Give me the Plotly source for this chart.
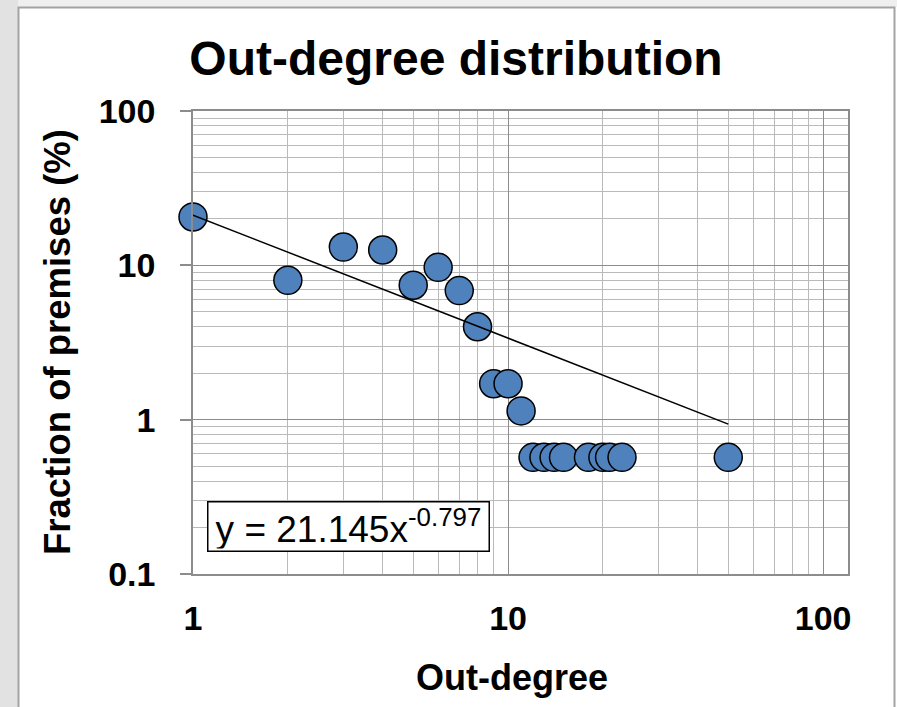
import plotly.graph_objects as go

# ---- data ----
out_degree = [1, 2, 3, 4, 5, 6, 7, 8, 9, 10, 11, 12, 13, 14, 15, 18, 20, 21, 23, 50]
fraction_pct = [20.57, 8.0, 13.14, 12.57, 7.43, 9.71, 6.86, 4.0, 1.71, 1.71, 1.14,
                0.57, 0.57, 0.57, 0.57, 0.57, 0.57, 0.57, 0.57, 0.57]

# power-law trendline  y = A * x^B  (as shown on the chart)
trend_A = 21.145
trend_B = -0.797
trend_x = [1, 50]
trend_y = [trend_A * x ** trend_B for x in trend_x]

x_ticks = [1, 10, 100]
x_tick_text = ["1", "10", "100"]
y_ticks = [0.1, 1, 10, 100]
y_tick_text = ["0.1", "1", "10", "100"]

# ---- figure geometry (pixels) ----
W, H = 897, 707
L, R, T, B = 193, 848, 111, 574
pw, ph = R - L, B - T


def px(xp):
    return (xp - L) / pw


def py(yp):
    return (B - yp) / ph


FONT = "Liberation Sans, Arial, sans-serif"
MAJOR = "#8c8c8c"
MINOR = "#bababa"

fig = go.Figure()
fig.add_trace(go.Scatter(
    x=out_degree, y=fraction_pct, mode="markers",
    marker=dict(size=28, color="#4F81BD", line=dict(color="black", width=1.5)),
    showlegend=False, cliponaxis=False,
))
fig.add_trace(go.Scatter(
    x=trend_x, y=trend_y, mode="lines",
    line=dict(color="black", width=1.5), showlegend=False,
))

shapes = [
    # left grey shadow strip
    dict(type="rect", xref="paper", yref="paper", x0=px(0), x1=px(18), y0=py(720), y1=py(0),
         fillcolor="#e2e2e2", line=dict(width=0), layer="below"),
    # top grey strip
    dict(type="rect", xref="paper", yref="paper", x0=px(18), x1=px(897), y0=py(7), y1=py(0),
         fillcolor="#efefef", line=dict(width=0), layer="below"),
    # chart frame
    dict(type="rect", xref="paper", yref="paper", x0=px(18.5), x1=px(894.5), y0=py(720), y1=py(7.5),
         fillcolor="rgba(0,0,0,0)", line=dict(color="#a3a3a3", width=2), layer="below"),
]

fig.update_layout(
    width=W, height=H,
    margin=dict(l=L, r=W - R, t=T, b=H - B, autoexpand=False),
    paper_bgcolor="white", plot_bgcolor="white",
    font=dict(family=FONT, color="black"),
    title=dict(text="<b>Out-degree distribution</b>", x=456 / W, xref="container",
               xanchor="center", y=1 - 58 / H, yref="container", yanchor="middle",
               font=dict(size=48, family=FONT, color="black")),
    shapes=shapes,
    annotations=[
        dict(text="y = 21.145x<sup>-0.797</sup>", xref="paper", yref="paper",
             x=px(348), y=py(526), xanchor="center", yanchor="middle", showarrow=False,
             font=dict(size=37, family=FONT, color="black"),
             bgcolor="white", bordercolor="black", borderwidth=1.5, borderpad=2,
             width=276, height=44),
        dict(text="<b>Out-degree</b>", xref="paper", yref="paper", x=px(512), y=py(677),
             xanchor="center", yanchor="middle", showarrow=False,
             font=dict(size=36, family=FONT, color="black")),
        dict(text="<b>Fraction of premises (%)</b>", xref="paper", yref="paper",
             x=px(57), y=py(342), xanchor="center", yanchor="middle", showarrow=False,
             textangle=-90, font=dict(size=36.5, family=FONT, color="black")),
    ],
)

fig.update_xaxes(
    type="log", range=[0, 2.079],
    tickmode="array", tickvals=x_ticks, ticktext=["<b>%s</b>" % t for t in x_tick_text],
    tickfont=dict(size=34, family=FONT, color="black"),
    ticks="", ticklabelstandoff=13,
    showgrid=True, gridcolor=MAJOR, gridwidth=1.2,
    minor=dict(dtick="D1", showgrid=True, gridcolor=MINOR, gridwidth=1.2, ticks=""),
    showline=True, linecolor=MAJOR, linewidth=1.5, mirror=True,
    zeroline=False,
)
fig.update_yaxes(
    type="log", range=[-1, 2],
    tickmode="array", tickvals=y_ticks, ticktext=["<b>%s</b>" % t for t in y_tick_text],
    tickfont=dict(size=34, family=FONT, color="black"),
    ticks="outside", ticklen=11, tickcolor=MAJOR, tickwidth=1.5, ticklabelstandoff=18,
    showgrid=True, gridcolor=MAJOR, gridwidth=1.2,
    minor=dict(dtick="D1", showgrid=True, gridcolor=MINOR, gridwidth=1.2, ticks=""),
    showline=True, linecolor=MAJOR, linewidth=1.5, mirror=True,
    zeroline=False,
)

fig.write_html("out.html", config={"displayModeBar": False},
               post_script="document.body.style.margin='0';document.body.style.overflow='hidden';")
